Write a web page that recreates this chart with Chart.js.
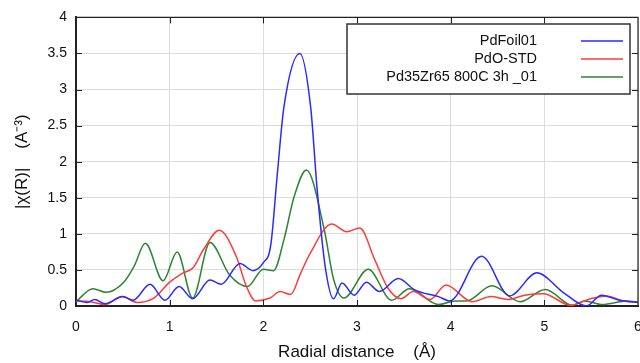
<!DOCTYPE html>
<html>
<head>
<meta charset="utf-8">
<script src="https://cdn.jsdelivr.net/npm/chart.js@4"></script>
<style>
  html, body { margin: 0; background: #fff; }
</style>
</head>
<body>
<canvas id="chart" width="640" height="363"></canvas>
<script>
// PdFoil01
const foilX = [0, 0.12, 0.2, 0.31, 0.5, 0.61, 0.79, 0.95, 1.1, 1.245, 1.43, 1.55, 1.75, 1.89, 2.0, 2.08, 2.15, 2.22, 2.39, 2.505, 2.575, 2.66, 2.75, 2.84, 2.97, 3.1, 3.24, 3.44, 3.62, 3.87, 3.99, 4.33, 4.63, 4.92, 5.2, 5.45, 5.61, 5.8, 6.0];
const foilY = [0.08, 0.05, 0.09, 0.03, 0.13, 0.08, 0.30, 0.08, 0.27, 0.10, 0.36, 0.30, 0.59, 0.49, 0.60, 0.85, 1.84, 2.76, 3.5, 2.76, 1.61, 0.55, 0.10, 0.32, 0.15, 0.33, 0.20, 0.38, 0.22, 0.13, 0.07, 0.69, 0.14, 0.46, 0.19, 0.0, 0.15, 0.08, 0.05];

// PdO-STD
const pdoX = [0, 0.15, 0.31, 0.49, 0.65, 0.83, 1.0, 1.13, 1.25, 1.36, 1.53, 1.71, 1.82, 1.92, 2.07, 2.18, 2.29, 2.4, 2.5, 2.73, 2.89, 3.03, 3.19, 3.33, 3.47, 3.6, 3.78, 3.95, 4.23, 4.43, 4.61, 4.79, 4.99, 5.28, 5.47, 5.66, 5.85, 6.0];
const pdoY = [0.07, 0.06, 0.02, 0.13, 0.05, 0.11, 0.33, 0.45, 0.53, 0.78, 1.05, 0.69, 0.27, 0.07, 0.11, 0.20, 0.16, 0.46, 0.73, 1.135, 1.03, 1.08, 0.64, 0.25, 0.10, 0.20, 0.09, 0.29, 0.06, 0.13, 0.09, 0.15, 0.17, 0.01, 0.09, 0.14, 0.07, 0.05];

// Pd35Zr65 800C 3h _01
const zrX = [0, 0.18, 0.32, 0.51, 0.62, 0.74, 0.93, 1.08, 1.245, 1.43, 1.64, 1.83, 2.0, 2.11, 2.22, 2.33, 2.46, 2.65, 2.75, 2.86, 3.12, 3.37, 3.56, 3.87, 4.05, 4.17, 4.44, 4.74, 5.01, 5.3, 5.43, 5.62, 5.88, 6.0];
const zrY = [0.06, 0.24, 0.19, 0.33, 0.55, 0.87, 0.35, 0.75, 0.11, 0.88, 0.43, 0.27, 0.51, 0.49, 0.92, 1.52, 1.885, 1.06, 0.37, 0.11, 0.51, 0.08, 0.24, 0.02, 0.07, 0.07, 0.28, 0.06, 0.23, 0.01, 0.07, 0.02, 0.07, 0.05];

const labels = ['PdFoil01', 'PdO-STD', 'Pd35Zr65 800C 3h _01'];
const colors = ['#2a2aff', '#ff3b3b', '#2e8530'];

const pts = (xs, ys) => xs.map((x, i) => ({ x, y: ys[i] }));

const font = 'Arial, "Liberation Sans", sans-serif';

// frame (top/right), inward ticks and the boxed legend
const framePlugin = {
  id: 'frame',
  afterDraw(chart) {
    const { ctx, chartArea: a, scales: { x, y } } = chart;
    ctx.save();
    ctx.strokeStyle = '#222';
    ctx.lineWidth = 1.2;
    ctx.beginPath();
    ctx.moveTo(a.left, a.top); ctx.lineTo(a.right, a.top); ctx.lineTo(a.right, a.bottom);
    ctx.stroke();

    ctx.lineWidth = 1;
    ctx.beginPath();
    for (let v = 1; v < 6; v++) {
      const px = Math.round(x.getPixelForValue(v)) + 0.5;
      ctx.moveTo(px, a.bottom); ctx.lineTo(px, a.bottom - 6);
      ctx.moveTo(px, a.top); ctx.lineTo(px, a.top + 6);
    }
    for (let v = 0.5; v < 4; v += 0.5) {
      const py = Math.round(y.getPixelForValue(v)) + 0.5;
      ctx.moveTo(a.left, py); ctx.lineTo(a.left + 6, py);
      ctx.moveTo(a.right, py); ctx.lineTo(a.right - 6, py);
    }
    ctx.stroke();

    // legend
    const bx = 347, by = 24, bw = 283, bh = 70;
    ctx.fillStyle = '#fff';
    ctx.fillRect(bx, by, bw, bh);
    ctx.strokeStyle = '#333';
    ctx.lineWidth = 1.5;
    ctx.strokeRect(bx, by, bw, bh);
    ctx.font = '14.5px ' + font;
    ctx.textAlign = 'right';
    ctx.textBaseline = 'middle';
    chart.data.datasets.forEach((ds, i) => {
      const ry = 41 + i * 18;
      ctx.fillStyle = '#111';
      ctx.fillText(ds.label, 537, ry);
      ctx.strokeStyle = ds.borderColor;
      ctx.lineWidth = 1.5;
      ctx.beginPath();
      ctx.moveTo(581, ry); ctx.lineTo(623, ry);
      ctx.stroke();
    });
    ctx.restore();
  }
};

new Chart(document.getElementById('chart'), {
  type: 'line',
  data: {
    datasets: [
      { label: labels[0], data: pts(foilX, foilY), borderColor: colors[0] },
      { label: labels[1], data: pts(pdoX, pdoY), borderColor: colors[1] },
      { label: labels[2], data: pts(zrX, zrY), borderColor: colors[2] },
    ].map(d => ({ ...d, borderWidth: 1.5, pointRadius: 0, fill: false, cubicInterpolationMode: 'monotone' })),
  },
  options: {
    responsive: false,
    devicePixelRatio: 1,
    animation: false,
    layout: { padding: { top: 17, right: 2, left: 0, bottom: 0 } },
    plugins: { legend: { display: false }, tooltip: { enabled: false } },
    scales: {
      x: {
        type: 'linear', min: 0, max: 6,
        afterFit: s => { s.height = 57; s.paddingRight = 0; s.paddingLeft = 0; },
        ticks: { stepSize: 1, color: '#111', font: { family: font, size: 14 }, padding: 13, maxRotation: 0 },
        grid: { color: '#dcdcdc', lineWidth: 1, drawTicks: false },
        border: { color: '#222', width: 2 },
        title: { display: true, text: 'Radial distance    (Å)', color: '#111', font: { family: font, size: 17 }, padding: { top: 4, bottom: 0 } },
      },
      y: {
        min: 0, max: 4,
        afterFit: s => { s.width = 76; },
        ticks: { stepSize: 0.5, color: '#111', font: { family: font, size: 14 }, padding: 9, callback: v => String(v) },
        grid: { color: '#dcdcdc', lineWidth: 1, drawTicks: false },
        border: { color: '#222', width: 2 },
        title: { display: true, text: '|χ(R)|    (A⁻³)', color: '#111', font: { family: font, size: 17 }, padding: { top: 12, bottom: 0 } },
      },
    },
  },
  plugins: [framePlugin],
});
</script>
</body>
</html>
